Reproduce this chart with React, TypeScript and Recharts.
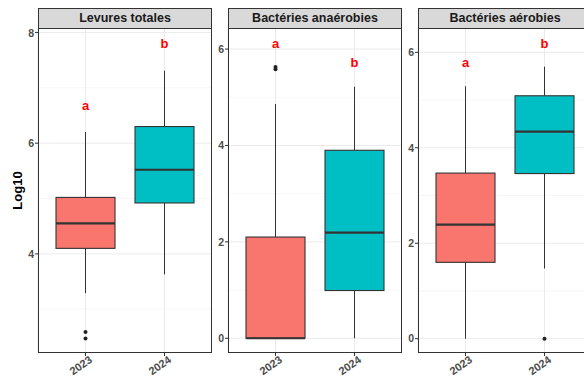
import { ComposedChart, Bar, XAxis, YAxis, CartesianGrid, Label } from 'recharts';

const years = ['2023', '2024'];

// Levures totales
const levMin = [3.29, 3.63];
const levQ1 = [4.1, 4.92];
const levMed = [4.55, 5.52];
const levQ3 = [5.02, 6.3];
const levMax = [6.2, 7.31];
const levOut = [[2.59, 2.47], []];
const levLetters = ['a', 'b'];
const levLetterY = [6.68, 7.8];

// Bactéries anaérobies
const anaMin = [0, 0];
const anaQ1 = [0, 0.99];
const anaMed = [0, 2.19];
const anaQ3 = [2.1, 3.9];
const anaMax = [4.86, 5.22];
const anaOut = [[5.58, 5.63], []];
const anaLetters = ['a', 'b'];
const anaLetterY = [6.12, 5.72];

// Bactéries aérobies
const aerMin = [0, 1.47];
const aerQ1 = [1.6, 3.46];
const aerMed = [2.39, 4.34];
const aerQ3 = [3.47, 5.09];
const aerMax = [5.29, 5.7];
const aerOut = [[], [0]];
const aerLetters = ['a', 'b'];
const aerLetterY = [5.78, 6.19];

const FILLS: Record<string, string> = { '2023': '#F8766D', '2024': '#00BFC4' };
const FONT = '"Liberation Sans", Arial, sans-serif';

function build(min: number[], q1: number[], med: number[], q3: number[], max: number[], out: number[][], letters: string[], letterY: number[]) {
  return years.map((year, i) => ({
    year,
    range: [q1[i], q3[i]],
    min: min[i],
    med: med[i],
    max: max[i],
    out: out[i],
    letter: letters[i],
    letterY: letterY[i],
  }));
}

const BoxShape = (props: any) => {
  const { x, y, width, height, payload } = props;
  const [lo, hi] = payload.range;
  const ppu = height / (hi - lo);
  const py = (v: number) => y + (hi - v) * ppu;
  const cx = x + width / 2;
  return (
    <g>
      <line x1={cx} x2={cx} y1={py(payload.max)} y2={py(hi)} stroke="#333" strokeWidth={1} />
      <line x1={cx} x2={cx} y1={py(lo)} y2={py(payload.min)} stroke="#333" strokeWidth={1} />
      <rect x={x} y={y} width={width} height={height} fill={FILLS[payload.year]} stroke="#333" strokeWidth={1.1} />
      <line x1={x} x2={x + width} y1={py(payload.med)} y2={py(payload.med)} stroke="#333" strokeWidth={2.2} />
      {payload.out.map((v: number, k: number) => (
        <circle key={k} cx={cx} cy={py(v)} r={2} fill="#222" />
      ))}
      <text x={cx} y={py(payload.letterY)} textAnchor="middle" dominantBaseline="central" fill="#FF0000" fontWeight="bold" fontSize={13} fontFamily={FONT}>
        {payload.letter}
      </text>
    </g>
  );
};

const XTick = (props: any) => {
  const { x, y, payload } = props;
  return (
    <g transform={`translate(${x + 3},${y - 3})`}>
      <text transform="rotate(-35)" x={0} y={0} dy="0.72em" textAnchor="end" fill="#4D4D4D" fontWeight="bold" fontSize={11} fontFamily={FONT}>
        {payload.value}
      </text>
    </g>
  );
};

const PW = 174;
const PH = 325;
const XH = 40;

function Panel({ left, yw, title, data, domain, ticks, minor, yTitle }: any) {
  return (
    <>
      <div style={{ position: 'absolute', left, top: 8, width: PW, height: 21, boxSizing: 'border-box', border: '1px solid #333', background: '#D9D9D9', fontFamily: FONT, fontWeight: 'bold', fontSize: 12.5, color: '#1A1A1A', textAlign: 'center', lineHeight: '19px' }}>
        {title}
      </div>
      <div style={{ position: 'absolute', left: left - yw, top: 28 }}>
        <ComposedChart width={yw + PW} height={PH + XH} data={data} margin={{ top: 0, right: 0, bottom: 0, left: 0 }}>
          <CartesianGrid horizontalValues={minor} vertical={false} stroke="#F2F2F2" strokeWidth={0.6} />
          <CartesianGrid horizontalValues={ticks} stroke="#EBEBEB" strokeWidth={1} />
          <XAxis dataKey="year" type="category" padding={{ left: 8, right: 8 }} height={XH} axisLine={false} tickSize={3} tickLine={{ stroke: '#333' }} tick={<XTick />} interval={0} />
          <YAxis type="number" domain={domain} ticks={ticks} allowDataOverflow width={yw} axisLine={false} tickSize={3} tickMargin={1} tickLine={{ stroke: '#333' }} tick={{ fill: '#4D4D4D', fontSize: 10.5, fontWeight: 'bold', fontFamily: FONT }}>
            {yTitle ? (
              <Label
                content={() => (
                  <text transform={`translate(22,${PH / 2}) rotate(-90)`} textAnchor="middle" fill="#000" fontWeight="bold" fontSize={13} fontFamily={FONT}>
                    {yTitle}
                  </text>
                )}
              />
            ) : null}
          </YAxis>
          <Bar dataKey="range" barSize={59} shape={<BoxShape />} isAnimationActive={false} />
        </ComposedChart>
      </div>
      <div style={{ position: 'absolute', left, top: 28, width: PW, height: PH, boxSizing: 'border-box', border: '1px solid #333', pointerEvents: 'none' }} />
    </>
  );
}

export default function App() {
  return (
    <div style={{ position: 'fixed', left: 0, top: 0, width: 584, height: 378, overflow: 'hidden', background: '#fff' }}>
      <Panel left={38} yw={38} title="Levures totales" yTitle="Log10"
        data={build(levMin, levQ1, levMed, levQ3, levMax, levOut, levLetters, levLetterY)}
        domain={[2.21, 8.08]} ticks={[4, 6, 8]} minor={[3, 5, 7]} />
      <Panel left={228} yw={20} title="Bactéries anaérobies"
        data={build(anaMin, anaQ1, anaMed, anaQ3, anaMax, anaOut, anaLetters, anaLetterY)}
        domain={[-0.306, 6.437]} ticks={[0, 2, 4, 6]} minor={[1, 3, 5]} />
      <Panel left={418} yw={20} title="Bactéries aérobies"
        data={build(aerMin, aerQ1, aerMed, aerQ3, aerMax, aerOut, aerLetters, aerLetterY)}
        domain={[-0.3, 6.51]} ticks={[0, 2, 4, 6]} minor={[1, 3, 5]} />
    </div>
  );
}
